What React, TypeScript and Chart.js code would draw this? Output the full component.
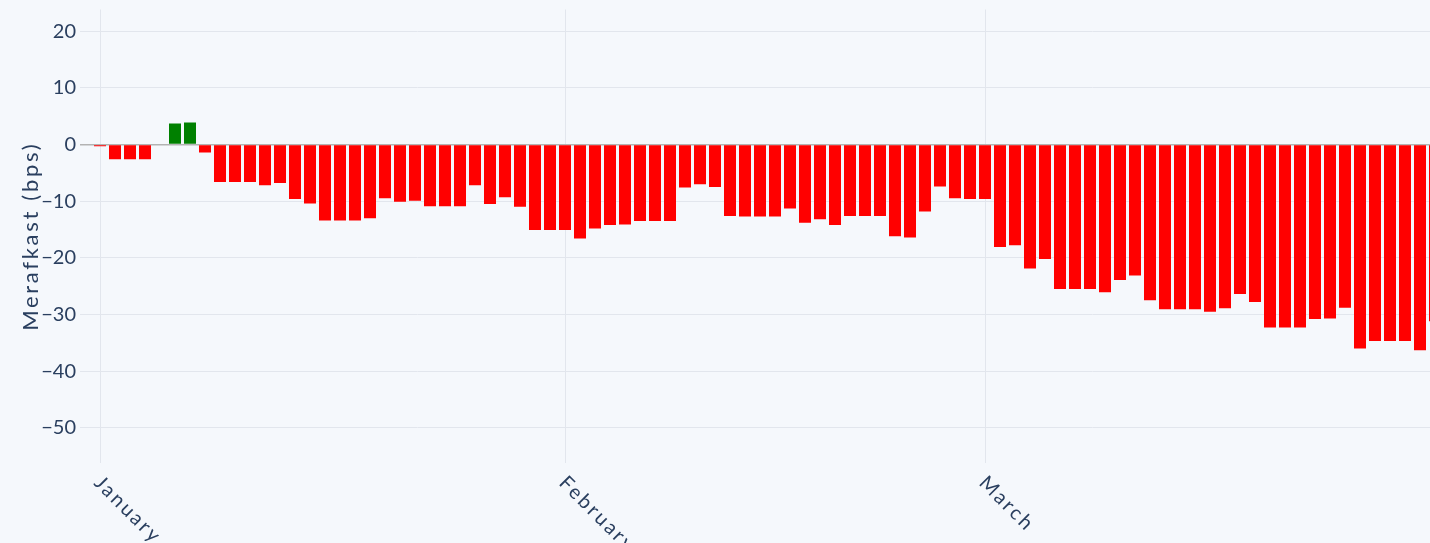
import React, { useEffect, useRef } from 'react';
import { Chart, registerables } from 'chart.js';

Chart.register(...registerables);

// Month tick labels and the day index (0 = 1 January) where each month starts
const months = ['January', 'February', 'March'];
const monthStartIdx = [0, 31, 59];

// Daily values (bps), one per calendar day
const janValues = [
  -0.3, -2.6, -2.6, -2.6, 0, 3.7, 3.9, -1.4, -6.6, -6.6, -6.6, -7.2, -6.8, -9.6, -10.4, -13.4,
  -13.4, -13.4, -13.0, -9.5, -10.1, -9.9, -10.9, -10.9, -10.9, -7.2, -10.5, -9.3, -11.0, -15.1, -15.1,
];
const febValues = [
  -15.1, -16.6, -14.8, -14.2, -14.1, -13.5, -13.5, -13.5, -7.6, -7.0, -7.5, -12.6, -12.7, -12.7,
  -12.7, -11.3, -13.8, -13.2, -14.2, -12.6, -12.6, -12.6, -16.2, -16.4, -11.8, -7.4, -9.5, -9.6,
];
const marValues = [
  -9.6, -18.1, -17.8, -21.9, -20.2, -25.5, -25.5, -25.5, -26.1, -23.9, -23.1, -27.5, -29.1, -29.1,
  -29.1, -29.5, -28.9, -26.4, -27.8, -32.3, -32.3, -32.3, -30.8, -30.7, -28.8, -36.0, -34.7, -34.7,
  -34.7, -36.3, -31.2,
];

const yTicks = [20, 10, 0, -10, -20, -30, -40, -50];
const yTitle = 'Merafkast (bps)';

const BG = '#f5f8fc';
const TEXT = '#2a3f5f';
const GRID = '#e2e6ed';
const ZERO = '#b3b3b3';
const POS = '#008000';
const NEG = '#ff0000';

const W = 1430;
const H = 543;

const labelsPlugin = {
  id: 'customLabels',
  afterDraw(chart: any) {
    const ctx = chart.ctx as CanvasRenderingContext2D;
    const xs = chart.scales.x;
    const area = chart.chartArea;
    ctx.save();
    ctx.fillStyle = TEXT;
    // month labels, rotated 45° clockwise, starting at the tick
    ctx.font = '20px Lato';
    (ctx as any).letterSpacing = '2.6px';
    ctx.textAlign = 'left';
    ctx.textBaseline = 'alphabetic';
    monthStartIdx.forEach((v, i) => {
      const px = xs.getPixelForValue(v);
      ctx.save();
      ctx.translate(px - 7, area.bottom + 21);
      ctx.rotate(Math.PI / 4);
      ctx.fillText(months[i], 0, 0);
      ctx.restore();
    });
    // y-axis title
    ctx.font = '22px Lato';
    (ctx as any).letterSpacing = '2.7px';
    ctx.textAlign = 'center';
    ctx.textBaseline = 'alphabetic';
    ctx.translate(37.5, (area.top + area.bottom) / 2);
    ctx.rotate(-Math.PI / 2);
    ctx.fillText(yTitle, 0, 0);
    ctx.restore();
  },
};

export default function App() {
  const canvasRef = useRef<HTMLCanvasElement | null>(null);

  useEffect(() => {
    const canvas = canvasRef.current;
    if (!canvas) return;
    const values = [...janValues, ...febValues, ...marValues];
    const points = values.map((v, i) => ({ x: i, y: v }));
    const chart = new Chart(canvas, {
      type: 'bar',
      data: {
        datasets: [
          {
            data: points as any,
            backgroundColor: values.map((v) => (v >= 0 ? POS : NEG)),
            borderWidth: 0,
            barPercentage: 0.8,
            categoryPercentage: 1,
          },
        ],
      },
      options: {
        responsive: false,
        animation: false,
        layout: { padding: { top: 9.5, left: 0, right: 0, bottom: 0 } },
        plugins: {
          legend: { display: false },
          tooltip: { enabled: false },
        },
        scales: {
          x: {
            type: 'linear',
            offset: false,
            min: -20 / 15,
            max: 1330 / 15,
            ticks: { display: false },
            grid: { color: GRID, lineWidth: 1, drawTicks: false, offset: false },
            border: { display: false },
            afterBuildTicks: (s: any) => {
              s.ticks = monthStartIdx.map((v) => ({ value: v }));
            },
            afterFit: (s: any) => {
              s.height = 80;
              s.paddingLeft = 0;
              s.paddingRight = 0;
            },
          },
          y: {
            type: 'linear',
            min: -56.23,
            max: 23.85,
            ticks: {
              color: TEXT,
              padding: 4,
              font: { family: 'Lato', size: 20 },
              callback: (v: any) => (v < 0 ? '\u2212' + Math.abs(v) : String(v)),
            },
            grid: {
              color: (c: any) => (c.tick && c.tick.value === 0 ? ZERO : GRID),
              lineWidth: (c: any) => (c.tick && c.tick.value === 0 ? 1.5 : 1),
              drawTicks: false,
            },
            border: { display: false },
            afterBuildTicks: (s: any) => {
              s.ticks = yTicks.map((v) => ({ value: v }));
            },
            afterFit: (s: any) => {
              s.width = 80;
              s.paddingTop = 0;
              s.paddingBottom = 0;
            },
          },
        },
      },
      plugins: [labelsPlugin],
    });
    return () => chart.destroy();
  }, []);

  return (
    <div style={{ position: 'absolute', left: 0, top: 0, width: W, height: H, background: BG, overflow: 'hidden' }}>
      <canvas ref={canvasRef} width={W} height={H} style={{ display: 'block', width: W, height: H }} />
    </div>
  );
}
